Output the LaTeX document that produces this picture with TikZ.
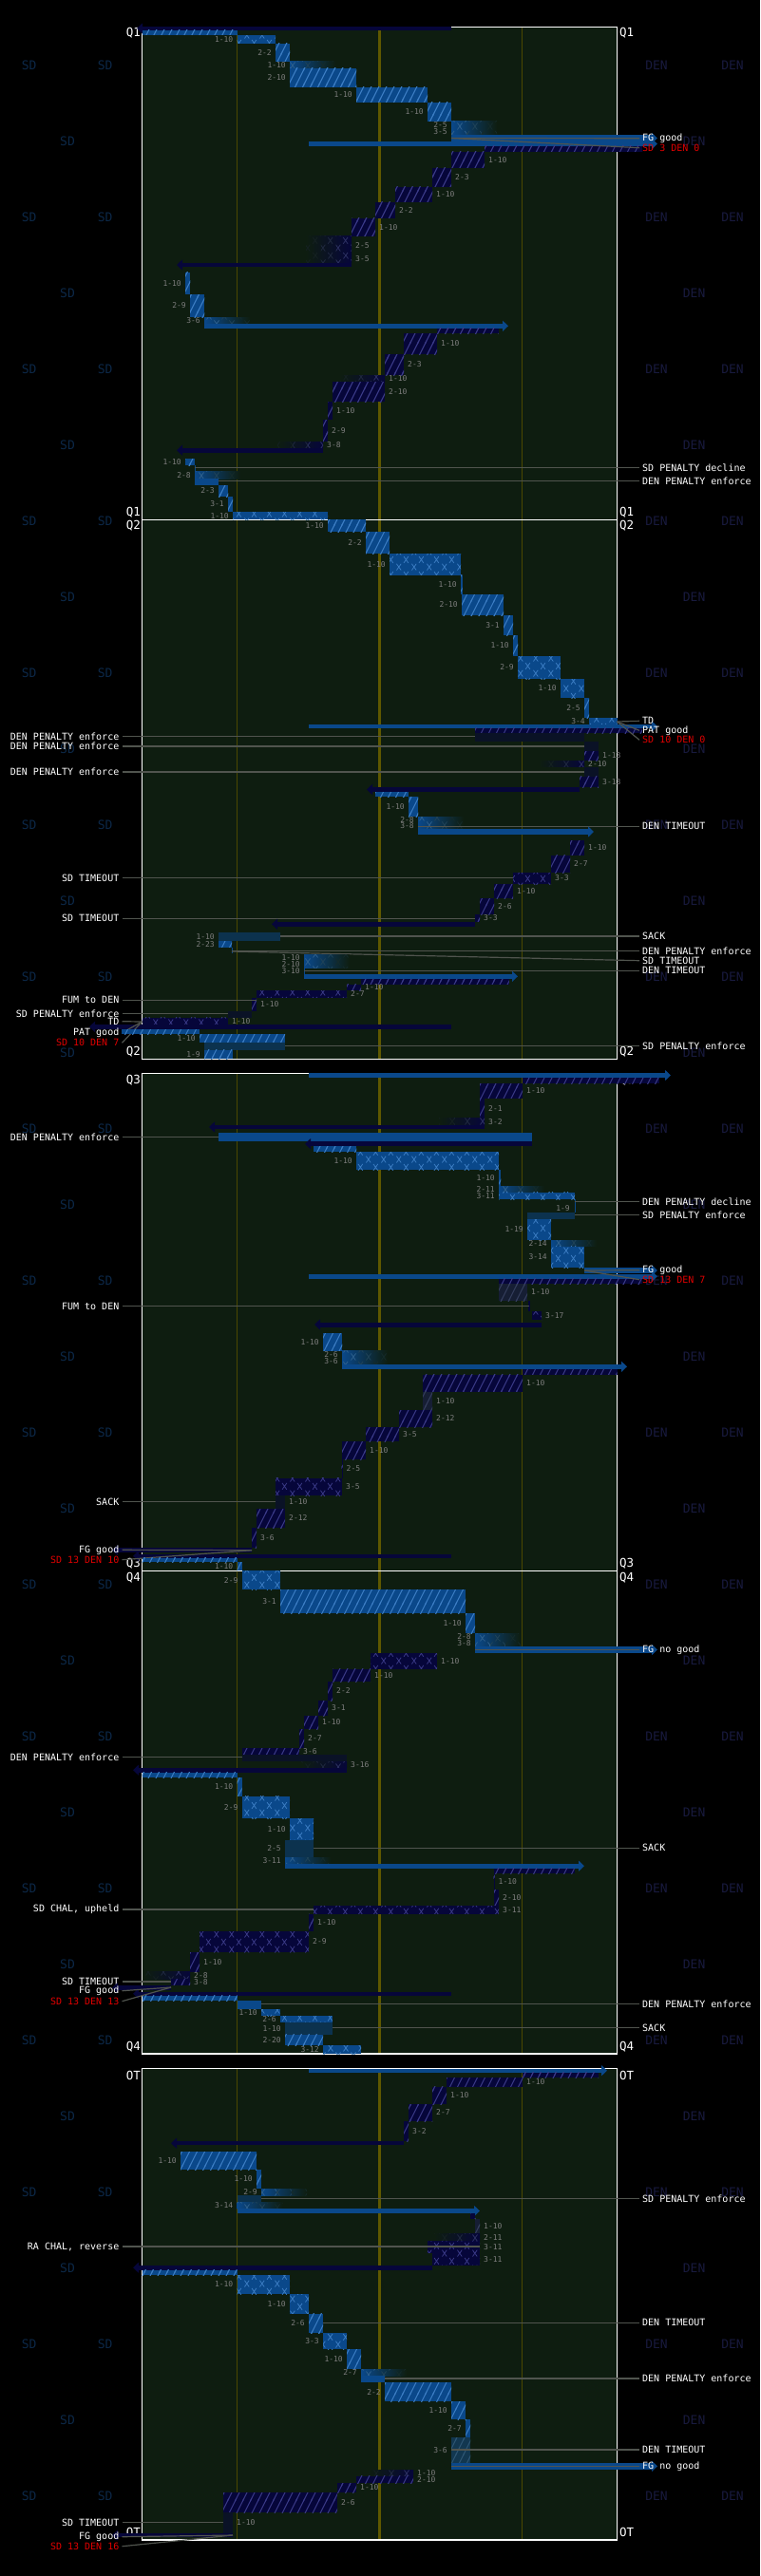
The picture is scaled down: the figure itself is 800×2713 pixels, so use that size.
\documentclass[tikz,border=0pt]{standalone}
\usepackage{fontspec}
\setmonofont{DejaVu Sans Mono}
\usetikzlibrary{arrows.meta,patterns}

\definecolor{fieldbg}{RGB}{14,29,16}
\definecolor{sdfill}{RGB}{10,72,138}
\definecolor{sdline}{RGB}{60,125,195}
\definecolor{denfill}{RGB}{6,6,58}
\definecolor{denline}{RGB}{58,58,135}
\definecolor{sdpenc}{RGB}{12,50,78}
\definecolor{denpenc}{RGB}{10,18,38}
\definecolor{lossc}{RGB}{22,30,52}
\definecolor{lossl}{RGB}{52,62,92}
\definecolor{sdlossc}{RGB}{18,55,80}
\definecolor{sdlossl}{RGB}{45,85,115}
\definecolor{yardc}{RGB}{75,72,0}
\definecolor{midc}{RGB}{95,88,0}
\definecolor{ddc}{RGB}{125,125,125}
\definecolor{leadc}{RGB}{80,84,78}
\definecolor{sdwm}{RGB}{12,40,72}
\definecolor{denwm}{RGB}{24,26,62}
\definecolor{scorec}{RGB}{225,0,0}

\pgfdeclarepatternformonly{hatch}{\pgfpoint{-1pt}{-2pt}}{\pgfpoint{9pt}{18pt}}{\pgfpoint{8pt}{16pt}}{%
  \pgfsetlinewidth{1.1pt}
  \pgfpathmoveto{\pgfpoint{-1pt}{-2pt}}
  \pgfpathlineto{\pgfpoint{9pt}{18pt}}
  \pgfusepath{stroke}}
\pgfdeclarepatternformonly{xmarks}{\pgfpointorigin}{\pgfpoint{16pt}{16pt}}{\pgfpoint{16pt}{16pt}}{%
  \pgfsetlinewidth{0.8pt}
  \pgfpathmoveto{\pgfpoint{1.5pt}{0.5pt}}\pgfpathlineto{\pgfpoint{6.5pt}{7.5pt}}
  \pgfpathmoveto{\pgfpoint{1.5pt}{7.5pt}}\pgfpathlineto{\pgfpoint{6.5pt}{0.5pt}}
  \pgfpathmoveto{\pgfpoint{9.5pt}{8.5pt}}\pgfpathlineto{\pgfpoint{14.5pt}{15.5pt}}
  \pgfpathmoveto{\pgfpoint{9.5pt}{15.5pt}}\pgfpathlineto{\pgfpoint{14.5pt}{8.5pt}}
  \pgfusepath{stroke}}

\tikzset{
  sdpass/.style={fill=sdfill,postaction={pattern=hatch,pattern color=sdline}},
  sdrun/.style={fill=sdfill,postaction={pattern=xmarks,pattern color=sdline}},
  sdpen/.style={fill=sdpenc},
  sdloss/.style={fill=sdlossc,postaction={pattern=hatch,pattern color=sdlossl}},
  denpass/.style={fill=denfill,postaction={pattern=hatch,pattern color=denline}},
  denrun/.style={fill=denfill,postaction={pattern=xmarks,pattern color=denline}},
  denpen/.style={fill=denpenc},
  denloss/.style={fill=lossc,postaction={pattern=hatch,pattern color=lossl}},
  sdkick/.style={draw=sdfill,line width=#1,-{Triangle[length=6pt,width=11pt]}},
  sdkick/.default=5pt,
  denkick/.style={draw=denfill,line width=#1,-{Triangle[length=6pt,width=11pt]}},
  denkick/.default=5pt,
  yard/.style={draw=yardc,line width=1pt},
  mid/.style={draw=midc,line width=2.5pt},
  frame/.style={draw=white,line width=1.2pt},
  leader/.style={draw=leadc,line width=1.2pt},
  dd/.style={font=\ttfamily\fontsize{8}{9}\selectfont,text=ddc,inner sep=0pt},
  ann/.style={font=\ttfamily\fontsize{10}{12}\selectfont,text=white,inner sep=0pt},
  score/.style={ann,text=scorec},
  qlab/.style={font=\ttfamily\fontsize{12.5}{14}\selectfont,text=white,inner sep=0pt},
  wm/.style={font=\ttfamily\fontsize{13}{15}\selectfont,inner sep=0pt}
}

\newcounter{pl}
\newcommand\lbl[4]{\stepcounter{pl}\node[dd,anchor=#1] (dd\thepl) at ({#2},{#3}) {#4};}
\newcommand\sdp[6][sdpass]{\fill[#1] (#2,#4) rectangle (#3,#5);\lbl{east}{#2-4}{(#4+#5)/2}{#6}}
\newcommand\denp[6][denpass]{\fill[#1] (#2,#4) rectangle (#3,#5);\lbl{west}{#3+4}{(#4+#5)/2}{#6}}
\newcommand\sdinc[4]{%
  \shade[left color=sdfill,right color=fieldbg] (#1,#2) rectangle ({#1+48},#3);
  \fill[pattern=xmarks,pattern color=sdline!70!fieldbg] (#1,#2) rectangle ({#1+16},#3);
  \fill[pattern=xmarks,pattern color=sdline!40!fieldbg] ({#1+16},#2) rectangle ({#1+32},#3);
  \fill[pattern=xmarks,pattern color=sdline!15!fieldbg] ({#1+32},#2) rectangle ({#1+48},#3);
  \lbl{east}{#1-4}{(#2+#3)/2}{#4}}
\newcommand\deninc[4]{%
  \shade[left color=fieldbg,right color=denfill] ({#1-48},#2) rectangle (#1,#3);
  \fill[pattern=xmarks,pattern color=denline!70!fieldbg] ({#1-16},#2) rectangle (#1,#3);
  \fill[pattern=xmarks,pattern color=denline!40!fieldbg] ({#1-32},#2) rectangle ({#1-16},#3);
  \fill[pattern=xmarks,pattern color=denline!15!fieldbg] ({#1-48},#2) rectangle ({#1-32},#3);
  \lbl{west}{#1+4}{(#2+#3)/2}{#4}}
\newcommand\noteR[4]{\node[ann,anchor=west] (#1) at (676,#3) {#4};
  \coordinate (#1s) at (#2,#3);\draw[leader] (#1s) -- ([xshift=-3pt]#1.west);}
\newcommand\noteL[4]{\node[ann,anchor=east] (#1) at (125.5,#3) {#4};
  \coordinate (#1s) at (#2,#3);\draw[leader] (#1s) -- ([xshift=3pt]#1.east);}

\begin{document}
\begin{tikzpicture}[x=1pt,y=-1pt]
\useasboundingbox (0,0) rectangle (800,2713);
\fill[black] (0,0) rectangle (800,2713);

% team marks
\foreach \k in {0,2,...,32}{
  \node[wm,text=sdwm] (wsa\k) at (30.6,{68.3+80*\k}) {SD};
  \node[wm,text=sdwm] (wsb\k) at (110.7,{68.3+80*\k}) {SD};
  \node[wm,text=denwm] (wda\k) at (691,{68.3+80*\k}) {DEN};
  \node[wm,text=denwm] (wdb\k) at (771,{68.3+80*\k}) {DEN};}
\foreach \k in {1,3,...,31}{
  \node[wm,text=sdwm] (wsc\k) at (71,{68.3+80*\k}) {SD};
  \node[wm,text=denwm] (wdc\k) at (730.6,{68.3+80*\k}) {DEN};}

% quarters
\foreach \t/\b in {28.3/547.3,547.3/1115.3,1130.3/1654.3,1654.3/2163,2178.7/2675}{
  \fill[fieldbg] (149.5,\t) rectangle (649.5,\b);
  \draw[yard] (249.5,\t) -- (249.5,\b);
  \draw[yard] (549.5,\t) -- (549.5,\b);
  \draw[mid] (399.5,\t) -- (399.5,\b);
  \draw[frame] (149.5,\t) rectangle (649.5,\b);}
\foreach \q/\y [count=\i] in {Q1/35,Q1/539.3,Q2/554,Q2/1107.7,Q3/1137.3,Q3/1646.7,Q4/1661.7,Q4/2155.7,OT/2185.7,OT/2667.3}{
  \node[qlab,anchor=east] (qa\i) at (148,\y) {\q};
  \node[qlab,anchor=west] (qb\i) at (652,\y) {\q};}

% Q1
\draw[denkick=3.5pt] (474.5,30) -- (144,30);
\fill[sdpass] (149.5,31.7) rectangle (249.5,36.7);
\sdp[sdrun]{249.5}{290}{37.3}{45.7}{1-10}
\sdp{290}{305}{46}{65}{2-2}
\sdinc{305}{65}{71.7}{1-10}
\sdp{305}{375}{71.7}{92}{2-10}
\sdp{375}{450}{92}{108}{1-10}
\sdp{450}{475}{108}{128}{1-10}
\sdinc{475}{128}{135}{2-5}
\sdinc{475}{135}{142}{3-5}
\draw[sdkick=7pt] (475,145.5) -- (692,145.5);
\draw[sdkick=5pt] (325,151.5) -- (692,151.5);
\fill[denpass] (510,154) rectangle (676,160);
\node[ann,anchor=west] (fg1) at (676,145.7) {FG good};
\node[score,anchor=west] (sc1) at (676,155.7) {SD 3 DEN 0};
\coordinate (fg1s) at (475,145.5);
\draw[leader] (fg1s) -- ([xshift=-3pt]fg1.west);
\draw[leader] (fg1s) -- ([xshift=-3pt]sc1.west);
\denp{475}{510}{160}{176.7}{1-10}
\denp{455}{475}{176.7}{197}{2-3}
\denp{416}{455}{197}{213}{1-10}
\denp{395}{416}{213}{230}{2-2}
\denp{370}{395}{230}{249}{1-10}
\deninc{370}{249}{269}{2-5}
\deninc{370}{269}{277}{3-5}
\draw[denkick=4.5pt] (370,279) -- (186,279);
\sdp{195}{200}{286.7}{310}{1-10}
\sdp{200}{215}{310}{334}{2-9}
\sdinc{215}{334}{341}{3-6}
\draw[sdkick=4.7pt] (215,343.3) -- (535,343.3);
\fill[denpass] (460,345.7) rectangle (524.5,351);
\denp{425}{460}{351}{373}{1-10}
\denp{405}{425}{373}{395}{2-3}
\deninc{405}{395}{402}{1-10}
\denp{350}{405}{402}{423.3}{2-10}
\denp{345}{350}{423.3}{442}{1-10}
\denp{340}{345}{442}{465}{2-9}
\deninc{340}{465}{471.7}{3-8}
\draw[denkick=5pt] (340,474.2) -- (186,474.2);
\sdp{195}{205}{483}{490}{1-10}
\draw[sdfill,line width=1pt] (205,490) -- (205,497);
\noteR{n1}{205}{492.3}{SD PENALTY decline}
\sdinc{205}{496.7}{504}{2-8}
\fill[sdfill] (205,504) rectangle (230,511);
\noteR{n2}{230}{506.7}{DEN PENALTY enforce}
\sdp{230}{240}{511}{523}{2-3}
\sdp{240}{245}{523}{539}{3-1}
\sdp[sdrun]{245}{345}{539}{547.3}{1-10}

% Q2
\sdp{345}{385}{547.3}{560}{1-10}
\sdp{385}{410}{560}{583}{2-2}
\sdp[sdrun]{410}{485}{583}{605.7}{1-10}
\sdp{485}{486.5}{605.7}{626}{1-10}
\sdp{486}{530}{626}{648}{2-10}
\sdp{530}{540}{648}{669}{3-1}
\sdp{540}{545}{669}{691}{1-10}
\sdp[sdrun]{545}{590}{691}{715}{2-9}
\sdp[sdrun]{590}{615}{715}{735}{1-10}
\sdp{615}{620}{735}{756}{2-5}
\sdp[sdrun]{620}{649.5}{756}{763.3}{3-4}
\draw[sdkick=3.7pt] (325,765) -- (692,765);
\fill[denpass] (500,766.7) rectangle (676,772);
\node[ann,anchor=west] (td1) at (676,759.3) {TD};
\node[ann,anchor=west] (pat1) at (676,769.3) {PAT good};
\node[score,anchor=west] (sc2) at (676,779.3) {SD 10 DEN 0};
\coordinate (td1s) at (649.5,760);
\draw[leader] (td1s) -- ([xshift=-3pt]td1.west);
\draw[leader] (td1s) -- ([xshift=-3pt]pat1.west);
\draw[leader] (td1s) -- ([xshift=-3pt]sc2.west);
\fill[denpen] (500,772) rectangle (615,780.7);
\noteL{n3}{500}{775.7}{DEN PENALTY enforce}
\fill[denpen] (615,780.7) rectangle (630,791);
\noteL{n4}{615}{786}{DEN PENALTY enforce}
\denp{615}{630}{791}{801}{1-13}
\deninc{615}{801}{807.7}{2-10}
\fill[denpen] (615,807.7) rectangle (630,817.7);
\noteL{n5}{615}{813}{DEN PENALTY enforce}
\denp{610}{630}{817.7}{829}{3-13}
\draw[denkick=5pt] (610,831.5) -- (386,831.5);
\fill[sdpass] (395,834) rectangle (430,839.3);
\sdp{430}{440}{839.3}{860}{1-10}
\sdinc{440}{860}{866.7}{2-8}
\sdinc{440}{866.7}{873.3}{3-8}
\noteR{n6}{440}{870.3}{DEN TIMEOUT}
\draw[sdkick=5.3pt] (440,876) -- (625,876);
\denp{600}{615}{885}{900.7}{1-10}
\denp{580}{600}{900.7}{919}{2-7}
\denp[denrun]{540}{580}{919}{931}{3-3}
\noteL{n7}{540}{924.7}{SD TIMEOUT}
\denp{520}{540}{931}{946}{1-10}
\denp{505}{520}{946}{963.3}{2-6}
\denp{500}{505}{963.3}{970.7}{3-3}
\noteL{n8}{500}{967.3}{SD TIMEOUT}
\draw[denkick=5.3pt] (500,973.3) -- (286,973.3);
\sdp[sdpen]{230}{295}{982}{991}{1-10}
\noteR{n9}{295}{986}{SACK}
\sdp{230}{244}{991}{997.7}{2-23}
\draw[sdfill,line width=1pt] (244,997.7) -- (244,1004);
\noteR{n10}{244}{1001.7}{DEN PENALTY enforce}
\node[ann,anchor=west] (n11) at (676,1011.7) {SD TIMEOUT};
\coordinate (n11s) at (244,1002);
\draw[leader] (n11s) -- ([xshift=-3pt]n11.west);
\sdinc{320}{1005}{1012}{1-10}
\sdinc{320}{1012}{1019}{2-10}
\draw[sdfill,line width=1pt] (320,1019) -- (320,1025.7);
\lbl{east}{316}{1022.3}{3-10}
\noteR{n12}{320}{1022.3}{DEN TIMEOUT}
\draw[sdkick=5.3pt] (320,1028.3) -- (545,1028.3);
\fill[denpass] (380,1031) rectangle (535.7,1036.7);
\denp{365}{380}{1036.7}{1043.3}{1-10}
\denp[denrun]{270}{365}{1043.3}{1050.7}{2-7}
\denp{265}{270}{1050.7}{1065}{1-10}
\noteL{n13}{270}{1053.3}{FUM to DEN}
\fill[denpen] (240,1065) rectangle (265,1071.7);
\noteL{n14}{240}{1067.7}{SD PENALTY enforce}
\denp[denrun]{149.5}{240}{1071.7}{1078.7}{1-10}
\draw[denkick=5.3pt] (474.5,1081.3) -- (94,1081.3);
\node[ann,anchor=east] (td2) at (125.5,1075.7) {TD};
\node[ann,anchor=east] (pat2) at (125.5,1087.7) {PAT good};
\node[score,anchor=east] (sc3) at (125.5,1098.3) {SD 10 DEN 7};
\coordinate (td2s) at (149.5,1076);
\draw[leader] (td2s) -- ([xshift=3pt]td2.east);
\draw[leader] (td2s) -- ([xshift=3pt]pat2.east);
\draw[leader] (td2s) -- ([xshift=3pt]sc3.east);
\fill[sdpass] (127.5,1084) rectangle (210,1089.3);
\sdp{210}{300}{1089.3}{1097.7}{1-10}
\fill[sdpen] (215,1097.7) rectangle (300,1105.7);
\noteR{n15}{300}{1101.7}{SD PENALTY enforce}
\sdp{215}{245}{1105.7}{1115.3}{1-9}

% Q3
\draw[sdkick=5pt] (325,1132.5) -- (706,1132.5);
\fill[denpass] (550,1135) rectangle (694,1141);
\denp{505}{550}{1141}{1156.7}{1-10}
\denp{505}{510}{1156.7}{1177.7}{2-1}
\deninc{510}{1177.7}{1185}{3-2}
\draw[denkick=4.3pt] (510,1187) -- (220,1187);
\fill[sdfill] (230,1193.3) rectangle (560,1202);
\noteL{n16}{230}{1197.7}{DEN PENALTY enforce}
\draw[denkick=5.3pt] (560,1204.7) -- (321,1204.7);
\fill[sdpass] (330,1207.3) rectangle (375,1213);
\sdp[sdrun]{375}{525}{1213}{1232}{1-10}
\sdp{525}{527}{1232}{1249}{1-10}
\sdinc{525}{1249}{1255.7}{2-11}
\sdp[sdrun]{525}{605}{1255.7}{1263}{3-11}
\draw[sdfill,line width=1pt] (605,1263) -- (605,1277);
\noteR{n17}{605}{1265.7}{DEN PENALTY decline}
\lbl{east}{600}{1272.3}{1-9}
\fill[sdpen] (555,1277) rectangle (605,1284);
\noteR{n18}{605}{1279.7}{SD PENALTY enforce}
\sdp[sdrun]{555}{580}{1284}{1306}{1-19}
\sdinc{580}{1306}{1312.7}{2-14}
\sdp[sdrun]{580}{615}{1312.7}{1335}{3-14}
\draw[sdkick=5.7pt] (615,1338) -- (692,1338);
\draw[sdkick=5pt] (325,1344.2) -- (692,1344.2);
\fill[denpass] (525,1346.7) rectangle (676,1352);
\node[ann,anchor=west] (fg2) at (676,1337.7) {FG good};
\node[score,anchor=west] (sc4) at (676,1347.7) {SD 13 DEN 7};
\coordinate (fg2s) at (615,1338);
\draw[leader] (fg2s) -- ([xshift=-3pt]fg2.west);
\draw[leader] (fg2s) -- ([xshift=-3pt]sc4.west);
\denp[denloss]{525}{555}{1352}{1370}{1-10}
\draw[denfill,line width=2pt] (557,1370) -- (557,1381);
\noteL{n19}{557}{1375.7}{FUM to DEN}
\denp[denrun]{560}{570}{1381}{1390}{3-17}
\draw[denkick=5pt] (570,1395) -- (331,1395);
\sdp{340}{360}{1404}{1422.7}{1-10}
\sdinc{360}{1422.7}{1429.7}{2-6}
\sdinc{360}{1429.7}{1436.7}{3-6}
\draw[sdkick=5.3pt] (360,1439.3) -- (660,1439.3);
\fill[denpass] (550,1442) rectangle (649.5,1447.7);
\denp{445}{550}{1447.7}{1465.7}{1-10}
\denp[denloss]{445}{455}{1465.7}{1485}{1-10}
\denp{420}{455}{1485}{1503}{2-12}
\denp{385}{420}{1503}{1518}{3-5}
\denp{360}{385}{1518}{1537.3}{1-10}
\denp{359.5}{360.5}{1537.3}{1556.7}{2-5}
\denp[denrun]{290}{360}{1556.7}{1575}{3-5}
\denp[denpen]{290}{300}{1575}{1589}{1-10}
\noteL{n20}{290}{1581.7}{SACK}
\denp{270}{300}{1589}{1609}{2-12}
\denp{265}{270}{1609}{1630}{3-6}
\draw[denkick=5.3pt] (265,1632.7) -- (118,1632.7);
\draw[denkick=3.7pt] (474.5,1638.8) -- (140,1638.8);
\node[ann,anchor=east] (fg3) at (125.5,1632.3) {FG good};
\node[score,anchor=east] (sc5) at (125.5,1642.7) {SD 13 DEN 10};
\coordinate (fg3s) at (265,1632.7);
\draw[leader] (fg3s) -- ([xshift=3pt]fg3.east);
\draw[leader] (fg3s) -- ([xshift=3pt]sc5.east);
\fill[sdpass] (149.5,1640.7) rectangle (249.5,1645);
\sdp{249.5}{254.6}{1645}{1654.3}{1-10}

% Q4
\sdp[sdrun]{254.6}{295}{1654.3}{1674}{2-9}
\sdp{295}{490}{1674}{1699}{3-1}
\sdp{490}{500}{1699}{1720}{1-10}
\sdinc{500}{1720}{1727}{2-8}
\sdinc{500}{1727}{1734}{3-8}
\draw[sdkick=7pt] (500,1737.5) -- (692,1737.5);
\node[ann,anchor=west] (fg4) at (676,1737.7) {FG no good};
\coordinate (fg4s) at (500,1737.7);
\draw[leader] (fg4s) -- ([xshift=-3pt]fg4.west);
\denp[denrun]{390}{460}{1741}{1757.7}{1-10}
\denp{350}{390}{1757.7}{1771}{1-10}
\denp{345}{350}{1771}{1791}{2-2}
\denp{335}{345}{1791}{1807}{3-1}
\denp{320}{335}{1807}{1821}{1-10}
\denp{315}{320}{1821}{1841}{2-7}
\denp{255}{315}{1841}{1848.3}{3-6}
\fill[denpen] (255,1848.3) rectangle (365,1855);
\noteL{n21}{255}{1850.7}{DEN PENALTY enforce}
\deninc{365}{1855}{1861.7}{3-16}
\draw[denkick=5pt] (365,1864.2) -- (140,1864.2);
\fill[sdpass] (149.5,1866.7) rectangle (249.5,1872);
\sdp{249.5}{254.6}{1872}{1891.7}{1-10}
\sdp[sdrun]{254.6}{305}{1891.7}{1915}{2-9}
\sdp[sdrun]{305}{330}{1915}{1938}{1-10}
\sdp[sdpen]{300}{330}{1938}{1956}{2-5}
\noteR{n22}{330}{1946.3}{SACK}
\sdinc{300}{1956}{1962.7}{3-11}
\draw[sdkick=5pt] (300,1965.2) -- (615,1965.2);
\fill[denpass] (520,1967.7) rectangle (604.6,1973.3);
\denp{519.5}{520.5}{1973.3}{1990}{1-10}
\denp{520}{525}{1990}{2007.3}{2-10}
\denp[denrun]{330}{525}{2007.3}{2015.7}{3-11}
\noteL{n23}{330}{2011}{SD CHAL, upheld}
\denp{325}{330}{2015.7}{2034}{1-10}
\denp[denrun]{210}{325}{2034}{2056}{2-9}
\denp{200}{210}{2056}{2076.7}{1-10}
\deninc{200}{2076.7}{2084}{2-8}
\denp{180}{200}{2084}{2090.7}{3-8}
\noteL{n24}{180}{2087}{SD TIMEOUT}
\draw[denkick=5pt] (180,2093.5) -- (118,2093.5);
\draw[denkick=4pt] (474.5,2099.7) -- (140,2099.7);
\node[ann,anchor=east] (fg5) at (125.5,2096.7) {FG good};
\node[score,anchor=east] (sc6) at (125.5,2107.7) {SD 13 DEN 13};
\coordinate (fg5s) at (180,2093);
\draw[leader] (fg5s) -- ([xshift=3pt]fg5.east);
\draw[leader] (fg5s) -- ([xshift=3pt]sc6.east);
\fill[sdpass] (149.5,2101.7) rectangle (249.5,2107);
\fill[sdfill] (249.5,2107) rectangle (275,2116);
\noteR{n25}{275}{2110.7}{DEN PENALTY enforce}
\sdp[sdrun]{275}{295}{2116}{2123}{1-10}
\sdp[sdrun]{295}{350}{2123}{2130}{2-6}
\sdp[sdpen]{300}{350}{2130}{2142.7}{1-10}
\noteR{n26}{350}{2135.7}{SACK}
\sdp{300}{340}{2142.7}{2154}{2-20}
\sdp[sdrun]{340}{380}{2154}{2163}{3-12}

% OT
\draw[sdkick=4pt] (325,2180.7) -- (639,2180.7);
\fill[denpass] (550,2182.7) rectangle (630,2188.3);
\denp{470}{550}{2188.3}{2197.7}{1-10}
\denp{455}{470}{2197.7}{2216}{1-10}
\denp{430}{455}{2216}{2234}{2-7}
\denp{425}{430}{2234}{2255}{3-2}
\draw[denkick=4.5pt] (425,2257.2) -- (180,2257.2);
\sdp{190}{270}{2266}{2285}{1-10}
\sdp{270}{275}{2285}{2305}{1-10}
\sdinc{275}{2305}{2312}{2-9}
\fill[sdpen] (249.5,2312) rectangle (275,2319);
\noteR{n27}{275}{2315.7}{SD PENALTY enforce}
\sdinc{249.5}{2319}{2326}{3-14}
\draw[sdkick=5pt] (249.5,2328.5) -- (505,2328.5);
\fill[denpass] (495,2331) rectangle (500,2336.7);
\denp[denloss]{500}{505}{2336.7}{2352.7}{1-10}
\deninc{505}{2352.7}{2360}{2-11}
\denp[denrun]{450}{505}{2360}{2372.7}{3-11}
\noteL{n28}{505}{2366}{RA CHAL, reverse}
\denp[denrun]{455}{505}{2372.7}{2385.7}{3-11}
\draw[denkick=5pt] (455,2388.2) -- (140,2388.2);
\fill[sdpass] (149.5,2390.7) rectangle (249.5,2396);
\sdp[sdrun]{249.5}{305}{2396}{2416}{1-10}
\sdp[sdrun]{305}{325}{2416}{2436.7}{1-10}
\sdp{325}{340}{2436.7}{2457.3}{2-6}
\noteR{n29}{340}{2446.3}{DEN TIMEOUT}
\sdp[sdrun]{340}{365}{2457.3}{2474}{3-3}
\sdp{365}{380}{2474}{2495}{1-10}
\sdinc{380}{2495}{2502}{2-7}
\fill[sdfill] (380,2502) rectangle (405,2509);
\noteR{n30}{405}{2505}{DEN PENALTY enforce}
\sdp{405}{475}{2509}{2529}{2-2}
\sdp{475}{490}{2529}{2548}{1-10}
\sdp{490}{495}{2548}{2567.3}{2-7}
\sdp[sdloss]{475}{495}{2567.3}{2594}{3-6}
\noteR{n31}{475}{2580}{DEN TIMEOUT}
\draw[sdkick=6.7pt] (475,2597.3) -- (692,2597.3);
\node[ann,anchor=west] (fg6) at (676,2597.3) {FG no good};
\coordinate (fg6s) at (475,2597.3);
\draw[leader] (fg6s) -- ([xshift=-3pt]fg6.west);
\deninc{435}{2601}{2607.7}{1-10}
\denp{375}{435}{2607.7}{2615}{2-10}
\denp{355}{375}{2615}{2625}{1-10}
\denp{235}{355}{2625}{2646}{2-6}
\denp[denpen]{235}{245}{2646}{2667.7}{1-10}
\noteL{n32}{235}{2656.7}{SD TIMEOUT}
\draw[denkick=4.7pt] (245,2670) -- (118,2670);
\node[ann,anchor=east] (fg7) at (125.5,2671.7) {FG good};
\node[score,anchor=east] (sc7) at (125.5,2681.7) {SD 13 DEN 16};
\coordinate (fg7s) at (245,2670);
\draw[leader] (fg7s) -- ([xshift=3pt]fg7.east);
\draw[leader] (fg7s) -- ([xshift=3pt]sc7.east);
\end{tikzpicture}
\end{document}
